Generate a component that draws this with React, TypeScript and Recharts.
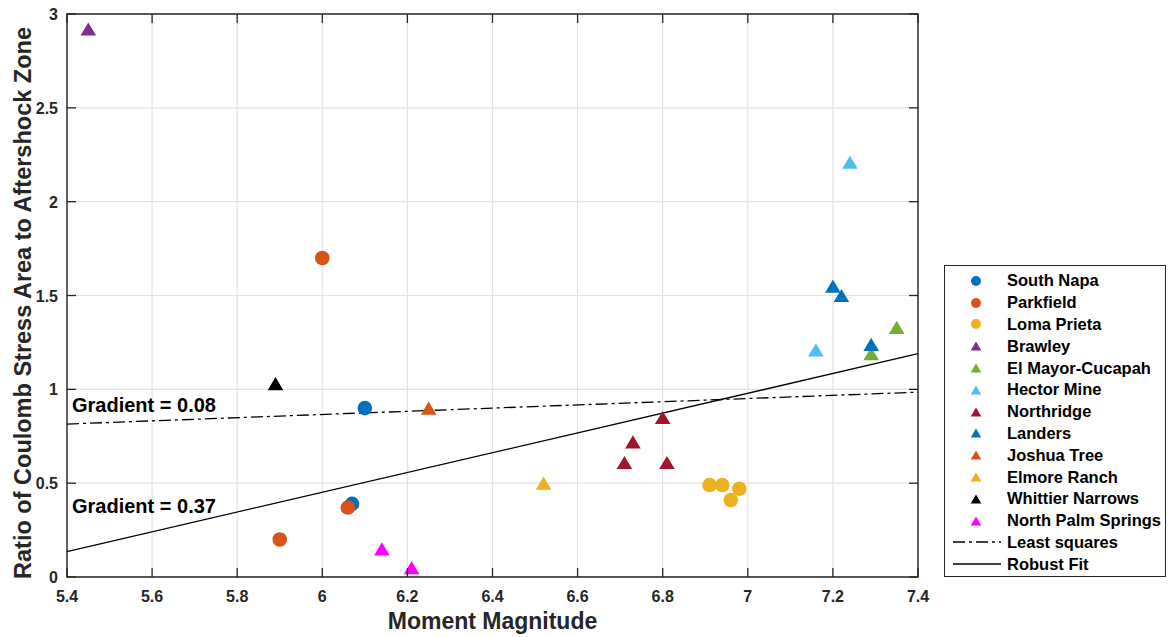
import React from "react";
import { ScatterChart, Scatter, XAxis, YAxis, CartesianGrid, ReferenceLine, ReferenceArea } from "recharts";

const W = 1168;
const H = 637;
const PLOT_L = 67;
const PLOT_R = 918;
const PLOT_T = 14;
const PLOT_B = 577;
const FONT = "'Liberation Sans', Arial, Helvetica, sans-serif";
const AXIS_COLOR = "#262626";

const X_TICKS = [5.4, 5.6, 5.8, 6, 6.2, 6.4, 6.6, 6.8, 7, 7.2, 7.4];
const Y_TICKS = [0, 0.5, 1, 1.5, 2, 2.5, 3];

// moment magnitude, stress-area ratio
const southNapa = [{ m: 6.1, r: 0.9 }, { m: 6.07, r: 0.39 }];
const parkfield = [{ m: 6.0, r: 1.7 }, { m: 5.9, r: 0.2 }, { m: 6.06, r: 0.37 }];
const lomaPrieta = [{ m: 6.91, r: 0.49 }, { m: 6.94, r: 0.49 }, { m: 6.96, r: 0.41 }, { m: 6.98, r: 0.47 }];
const brawley = [{ m: 5.45, r: 2.92 }];
const elMayor = [{ m: 7.35, r: 1.33 }, { m: 7.29, r: 1.19 }];
const hectorMine = [{ m: 7.24, r: 2.21 }, { m: 7.16, r: 1.21 }];
const northridge = [{ m: 6.8, r: 0.85 }, { m: 6.73, r: 0.72 }, { m: 6.71, r: 0.61 }, { m: 6.81, r: 0.61 }];
const landers = [{ m: 7.2, r: 1.55 }, { m: 7.22, r: 1.5 }, { m: 7.29, r: 1.24 }];
const joshuaTree = [{ m: 6.25, r: 0.9 }];
const elmoreRanch = [{ m: 6.52, r: 0.5 }];
const whittier = [{ m: 5.89, r: 1.03 }];
const northPalm = [{ m: 6.14, r: 0.15 }, { m: 6.21, r: 0.05 }];

const leastSquares = [{ m: 5.4, r: 0.815 }, { m: 7.4, r: 0.985 }];
const robustFit = [{ m: 5.4, r: 0.135 }, { m: 7.4, r: 1.19 }];

const DASH_DOT = "12 4 3 4";

type Series = { name: string; color: string; marker: "circle" | "triangle"; data: { m: number; r: number }[] };

const SERIES: Series[] = [
  { name: "South Napa", color: "#0072BD", marker: "circle", data: southNapa },
  { name: "Parkfield", color: "#D95319", marker: "circle", data: parkfield },
  { name: "Loma Prieta", color: "#EDB120", marker: "circle", data: lomaPrieta },
  { name: "Brawley", color: "#7E2F8E", marker: "triangle", data: brawley },
  { name: "El Mayor-Cucapah", color: "#77AC30", marker: "triangle", data: elMayor },
  { name: "Hector Mine", color: "#4DBEEE", marker: "triangle", data: hectorMine },
  { name: "Northridge", color: "#A2142F", marker: "triangle", data: northridge },
  { name: "Landers", color: "#0072BD", marker: "triangle", data: landers },
  { name: "Joshua Tree", color: "#D95319", marker: "triangle", data: joshuaTree },
  { name: "Elmore Ranch", color: "#EDB120", marker: "triangle", data: elmoreRanch },
  { name: "Whittier Narrows", color: "#000000", marker: "triangle", data: whittier },
  { name: "North Palm Springs", color: "#FF00FF", marker: "triangle", data: northPalm },
];

function markerShape(s: Series, scale = 1) {
  return (props: any) => {
    const { cx, cy } = props;
    if (cx == null || cy == null) return <g />;
    if (s.marker === "circle") return <circle cx={cx} cy={cy} r={7.3 * scale} fill={s.color} />;
    const hw = 7.8 * scale;
    const hh = 6.6 * scale;
    return (
      <polygon
        points={`${cx},${cy - hh} ${cx - hw},${cy + hh} ${cx + hw},${cy + hh}`}
        fill={s.color}
      />
    );
  };
}

const XTick = (props: any) => {
  const { x, payload } = props;
  return (
    <g>
      <line x1={x} x2={x} y1={PLOT_B} y2={PLOT_B - 9} stroke={AXIS_COLOR} strokeWidth={1.3} />
      <line x1={x} x2={x} y1={PLOT_T} y2={PLOT_T + 9} stroke={AXIS_COLOR} strokeWidth={1.3} />
      <text x={x} y={PLOT_B + 25} textAnchor="middle" fontFamily={FONT} fontWeight="bold" fontSize={16} fill={AXIS_COLOR}>
        {String(payload.value)}
      </text>
    </g>
  );
};

const YTick = (props: any) => {
  const { y, payload } = props;
  return (
    <g>
      <line x1={PLOT_L} x2={PLOT_L + 9} y1={y} y2={y} stroke={AXIS_COLOR} strokeWidth={1.3} />
      <line x1={PLOT_R} x2={PLOT_R - 9} y1={y} y2={y} stroke={AXIS_COLOR} strokeWidth={1.3} />
      <text x={PLOT_L - 9} y={y + 6} textAnchor="end" fontFamily={FONT} fontWeight="bold" fontSize={16} fill={AXIS_COLOR}>
        {String(payload.value)}
      </text>
    </g>
  );
};

const YTitle = () => (
  <text
    x={23}
    y={303}
    transform="rotate(-90 23 303)"
    textAnchor="middle"
    dominantBaseline="central"
    fontFamily={FONT}
    fontWeight="bold"
    fontSize={23.5}
    fill={AXIS_COLOR}
  >
    Ratio of Coulomb Stress Area to Aftershock Zone
  </text>
);

const LEGEND_ROWS = [
  ...SERIES.map((s) => ({ name: s.name, series: s as Series | null, dash: "" })),
  { name: "Least squares", series: null, dash: DASH_DOT },
  { name: "Robust Fit", series: null, dash: "none" },
];

function LegendBox() {
  return (
    <div
      style={{
        position: "absolute",
        left: 944,
        top: 265,
        width: 222,
        height: 312,
        boxSizing: "border-box",
        border: `1.3px solid ${AXIS_COLOR}`,
        background: "#fff",
        paddingTop: 4,
      }}
    >
      {LEGEND_ROWS.map((row) => (
        <div key={row.name} style={{ display: "flex", alignItems: "center", height: 21.8 }}>
          <svg width={62} height={20} style={{ flex: "0 0 auto" }}>
            {row.series ? (
              markerShape(row.series, 0.68)({ cx: 31, cy: 10 })
            ) : (
              <line x1={8} x2={56} y1={10} y2={10} stroke="#000" strokeWidth={1.3} strokeDasharray={row.dash} />
            )}
          </svg>
          <span style={{ fontFamily: FONT, fontWeight: "bold", fontSize: 16.5, color: "#000", whiteSpace: "nowrap" }}>
            {row.name}
          </span>
        </div>
      ))}
    </div>
  );
}

export default function App() {
  return (
    <div style={{ position: "fixed", left: 0, top: 0, width: W, height: H, background: "#fff" }}>
      <ScatterChart width={W} height={H} margin={{ top: PLOT_T, right: W - PLOT_R, bottom: 0, left: 0 }}>
        <CartesianGrid stroke="#e3e3e3" strokeWidth={1.2} />
        <XAxis
          type="number"
          dataKey="m"
          domain={[5.4, 7.4]}
          ticks={X_TICKS}
          height={H - PLOT_B}
          axisLine={false}
          tickLine={false}
          tick={<XTick />}
          interval={0}
          allowDataOverflow
          label={{
            value: "Moment Magnitude",
            position: "insideBottom",
            offset: 8,
            style: { fontFamily: FONT, fontWeight: "bold", fontSize: 23, fill: AXIS_COLOR },
          }}
        />
        <YAxis
          type="number"
          dataKey="r"
          domain={[0, 3]}
          ticks={Y_TICKS}
          width={PLOT_L}
          axisLine={false}
          tickLine={false}
          tick={<YTick />}
          interval={0}
          allowDataOverflow
          label={{ content: () => <YTitle /> }}
        />
        <ReferenceArea x1={5.4} x2={7.4} y1={0} y2={3} fill="none" stroke={AXIS_COLOR} strokeWidth={1.4} ifOverflow="visible" />
        <ReferenceLine
          segment={[{ x: leastSquares[0].m, y: leastSquares[0].r }, { x: leastSquares[1].m, y: leastSquares[1].r }]}
          stroke="#000"
          strokeWidth={1.3}
          strokeDasharray={DASH_DOT}
        />
        <ReferenceLine
          segment={[{ x: robustFit[0].m, y: robustFit[0].r }, { x: robustFit[1].m, y: robustFit[1].r }]}
          stroke="#000"
          strokeWidth={1.3}
        />
        {SERIES.map((s) => (
          <Scatter key={s.name} name={s.name} data={s.data} fill={s.color} shape={markerShape(s)} isAnimationActive={false} />
        ))}
      </ScatterChart>
      <div style={{ position: "absolute", left: 72, top: 394, fontFamily: FONT, fontWeight: "bold", fontSize: 20, color: "#000" }}>
        Gradient = 0.08
      </div>
      <div style={{ position: "absolute", left: 72, top: 495, fontFamily: FONT, fontWeight: "bold", fontSize: 20, color: "#000" }}>
        Gradient = 0.37
      </div>
      <LegendBox />
    </div>
  );
}
